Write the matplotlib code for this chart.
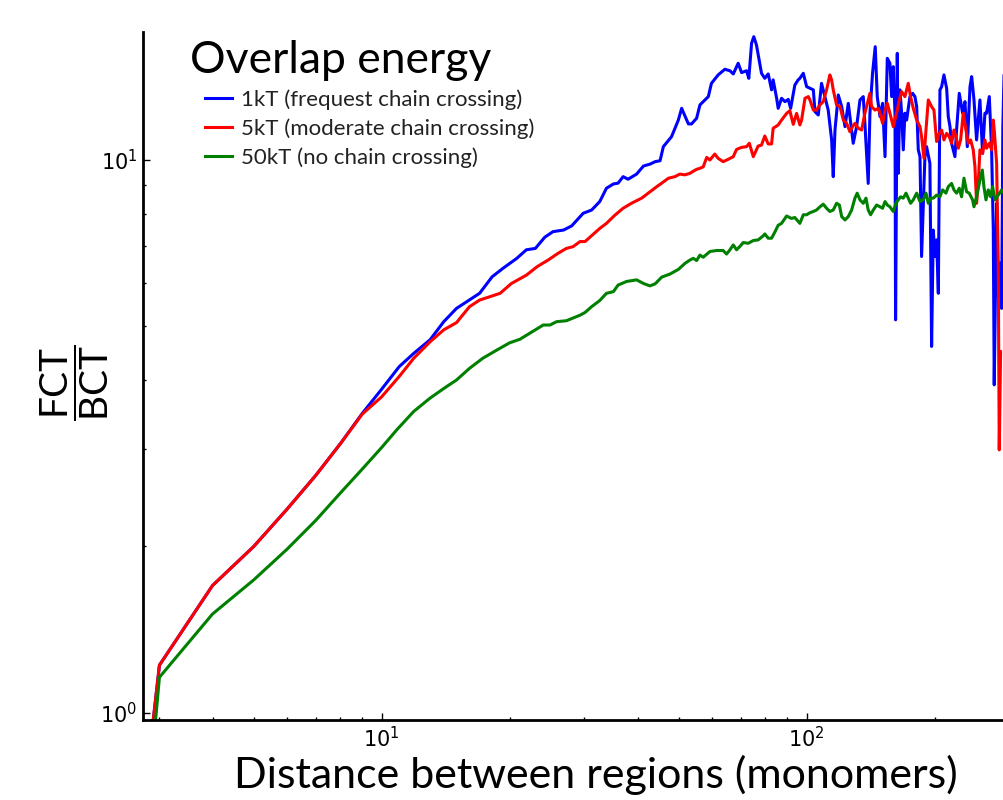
import numpy as np
import matplotlib
matplotlib.use('Agg')
import matplotlib.pyplot as plt

# distance between regions (monomers) and FCT/BCT ratio
x_1kt = [2, 3, 4, 5, 6, 7, 8, 9, 10, 11.0, 11.9, 13.0, 14.0, 15.0, 17.0, 18.2, 19.3, 20.8, 21.9, 23.0,
         24.2, 25.3, 26.8, 28.0, 29.8, 31.2, 32.6, 33.8, 35.1, 36.0, 37.0, 38.0, 39.8, 41.3, 42.8, 44.0,
         45.2, 46.0, 48.1, 49.9, 50.8, 52.7, 53.6, 55.1, 56.1, 58.7, 59.7, 61.9, 64.2, 66.0, 67.2, 69.0,
         70.3, 72.2, 73.1, 74.2, 75.1, 76.2, 78.3, 79.7, 81.2, 82.7, 83.4, 85.0, 85.7, 87.3, 88.9, 90.5,
         91.7, 93.8, 95.5, 96.4, 98.2, 100.0, 101.8, 103.7, 104.6, 106.5, 108.4, 110.4, 112.4, 114.5,
         115.5, 116.6, 118.7, 120.9, 123.1, 125.3, 126.4, 128.7, 131.1, 133.5, 135.9, 137.1, 139.6,
         140.9, 142.9, 145.0, 146.6, 148.8, 150.9, 152.9, 154.8, 157.0, 158.5, 159.9, 161.4, 161.9,
         163.4, 164.3, 165.8, 167.3, 168.8, 170.3, 171.9, 175.0, 177.6, 179.8, 181.5, 183.1, 184.8,
         186.4, 189.8, 191.5, 195.0, 196.8, 198.6, 200.4, 202.2, 204.1, 205.9, 207.8, 210.4, 213.5,
         215.4, 217.4, 219.3, 221.3, 223.3, 225.3, 228.6, 232.8, 235.8, 238.8, 242.3, 244.5, 247.6,
         251.1, 255.7, 259.4, 262.7, 265.1, 269.0, 272.4, 274.9, 276.3, 279.9, 282.4, 285.0, 287.6,
         289.5, 291.5]
y_1kt = [0.077, 1.22, 1.70, 2.00, 2.34, 2.69, 3.07, 3.48, 3.85, 4.23, 4.47, 4.73, 5.10, 5.39, 5.74,
         6.15, 6.37, 6.64, 6.88, 6.92, 7.25, 7.42, 7.47, 7.60, 8.01, 8.12, 8.41, 8.89, 9.05, 9.08, 9.33,
         9.23, 9.43, 9.75, 9.83, 9.93, 9.97, 10.57, 11.02, 11.81, 12.40, 11.62, 11.62, 11.90, 12.58,
         13.02, 13.76, 14.25, 14.59, 14.50, 14.31, 14.96, 14.39, 14.50, 14.05, 16.26, 16.71, 16.14,
         14.35, 14.05, 14.31, 13.39, 13.96, 12.93, 12.40, 12.93, 12.75, 12.87, 12.40, 13.66, 13.96,
         14.05, 14.35, 13.57, 13.48, 13.39, 12.23, 12.06, 13.76, 13.02, 12.31, 10.87, 9.33, 11.33,
         13.11, 12.49, 11.49, 12.66, 11.98, 10.72, 11.49, 12.84, 13.02, 11.65, 9.07, 12.15, 14.35,
         16.03, 13.02, 11.98, 12.66, 10.14, 15.27, 14.96, 13.02, 14.75, 12.15, 5.14, 15.59, 9.46,
         13.39, 12.15, 10.43, 12.15, 11.81, 13.02, 13.20, 13.02, 12.49, 10.43, 10.14, 6.69, 10.14,
         10.57, 9.86, 4.60, 7.47, 6.69, 7.17, 5.74, 13.39, 13.57, 14.25, 13.48, 11.98, 11.49, 10.72,
         10.43, 10.14, 11.33, 13.20, 12.15, 12.75, 10.57, 13.57, 14.15, 12.84, 10.87, 12.84, 10.28,
         12.15, 12.15, 13.02, 10.43, 7.47, 3.92, 8.35, 5.66, 6.51, 5.39, 11.5, 14.5]

x_5kt = [2, 3, 4, 5, 6, 7, 8, 9, 10, 11.0, 11.9, 13.0, 14.0, 15.0, 16.1, 17.0, 19.0, 20.2, 21.9,
         23.2, 24.7, 26.0, 27.2, 28.2, 29.3, 30.1, 32.6, 33.8, 35.4, 37.0, 38.7, 40.9, 42.8, 44.4,
         45.6, 47.3, 49.0, 50.3, 51.7, 53.1, 55.1, 56.1, 57.1, 58.2, 59.2, 60.8, 61.9, 63.6, 65.4,
         67.2, 68.4, 70.3, 72.2, 73.3, 74.9, 76.9, 78.3, 79.7, 81.2, 82.7, 83.4, 85.7, 87.3, 89.7,
         91.3, 93.0, 94.7, 96.4, 97.3, 99.1, 100.9, 101.8, 103.7, 105.5, 107.5, 109.4, 111.4, 113.4,
         114.5, 115.5, 117.6, 119.8, 122.0, 124.2, 126.4, 128.3, 129.9, 132.3, 134.7, 137.1, 139.6,
         140.9, 142.2, 144.8, 147.4, 148.8, 150.9, 152.9, 154.8, 157.0, 159.9, 163.4, 165.2, 167.3,
         170.3, 173.4, 175.6, 178.2, 181.5, 184.8, 186.4, 188.8, 190.9, 193.3, 196.8, 199.3, 202.2,
         205.2, 207.8, 210.4, 213.5, 216.6, 219.3, 222.1, 224.5, 227.4, 230.3, 233.6, 237.0, 240.1,
         243.1, 246.6, 248.9, 251.1, 253.4, 255.7, 259.4, 262.7, 265.1, 269.0, 272.4, 274.9, 276.3,
         279.9, 282.4, 283.9, 286.0]
y_5kt = [0.077, 1.22, 1.70, 2.00, 2.34, 2.69, 3.07, 3.47, 3.73, 4.06, 4.38, 4.69, 4.93, 5.08, 5.43,
         5.58, 5.74, 5.98, 6.19, 6.41, 6.60, 6.78, 6.92, 6.97, 7.12, 7.12, 7.52, 7.68, 7.95, 8.18,
         8.35, 8.53, 8.76, 8.95, 9.08, 9.27, 9.33, 9.43, 9.40, 9.46, 9.62, 9.66, 9.72, 10.11, 10.00,
         10.25, 10.07, 9.93, 10.03, 10.14, 10.45, 10.54, 10.57, 10.72, 10.14, 10.60, 10.64, 11.05,
         10.69, 10.69, 11.41, 11.57, 11.81, 12.14, 12.28, 11.60, 12.14, 11.57, 11.81, 12.93, 13.02,
         12.84, 12.31, 12.31, 12.58, 12.75, 13.39, 14.25, 13.95, 13.39, 12.58, 12.49, 11.81, 11.65,
         11.25, 11.49, 11.65, 11.41, 11.33, 12.15, 12.84, 13.20, 12.49, 12.31, 12.40, 12.15, 11.65,
         12.31, 12.66, 12.15, 11.49, 12.31, 12.84, 13.29, 13.02, 13.76, 13.02, 12.40, 11.81, 11.49,
         11.02, 10.07, 11.33, 12.84, 12.49, 12.31, 10.80, 11.17, 11.33, 10.87, 11.17, 11.02, 10.72,
         11.33, 11.02, 10.50, 10.87, 12.15, 11.33, 10.72, 10.87, 10.43, 9.72, 8.35, 9.07, 10.43,
         10.28, 10.87, 10.50, 10.72, 10.43, 11.81, 11.33, 9.86, 6.51, 2.99, 4.5]

x_50kt = [2, 3, 4, 5, 6, 7, 8, 9, 10, 10.85, 11.9, 13.0, 14.2, 15.0, 16.1, 17.3, 18.65, 20.0,
          21.15, 22.3, 24.0, 24.9, 25.8, 27.2, 29.3, 30.1, 31.2, 32.6, 33.8, 35.1, 36.0, 37.7, 39.8,
          41.3, 42.8, 44.0, 45.6, 47.7, 49.9, 51.7, 53.1, 54.1, 55.1, 56.1, 57.1, 59.2, 61.4, 63.6,
          64.8, 66.0, 67.2, 68.4, 69.7, 70.9, 72.9, 74.9, 76.9, 79.0, 79.7, 81.2, 82.7, 84.2, 85.7,
          87.3, 89.7, 92.1, 93.8, 96.4, 98.2, 100.0, 101.8, 103.7, 105.5, 107.5, 109.4, 111.4, 113.4,
          115.5, 117.6, 119.4, 120.9, 123.1, 125.3, 127.6, 129.9, 131.5, 133.5, 135.9, 137.9, 139.6,
          141.4, 143.5, 146.1, 148.8, 150.9, 152.9, 154.8, 157.0, 159.9, 162.2, 164.3, 166.4, 168.8,
          171.3, 173.4, 175.6, 178.2, 181.5, 184.8, 188.1, 190.9, 193.3, 195.7, 198.6, 202.2, 205.9,
          208.9, 212.7, 215.4, 219.3, 222.1, 225.3, 228.6, 231.5, 234.5, 237.9, 241.3, 245.7, 247.6,
          251.1, 255.7, 259.0, 261.3, 264.2, 267.5, 270.9, 273.9, 277.3, 282.4, 287.6, 291.2]
y_50kt = [0.037, 1.16, 1.51, 1.74, 1.98, 2.23, 2.50, 2.76, 3.02, 3.25, 3.51, 3.71, 3.89, 4.00, 4.20,
          4.38, 4.53, 4.67, 4.74, 4.86, 5.03, 5.03, 5.10, 5.12, 5.24, 5.30, 5.43, 5.57, 5.74, 5.78,
          5.94, 6.03, 6.07, 5.98, 5.92, 5.97, 6.14, 6.22, 6.34, 6.50, 6.59, 6.64, 6.58, 6.73, 6.67,
          6.83, 6.86, 6.86, 6.76, 6.88, 7.02, 6.88, 6.98, 7.09, 7.07, 7.15, 7.17, 7.29, 7.35, 7.22,
          7.22, 7.41, 7.62, 7.68, 7.92, 7.84, 7.87, 7.68, 7.96, 7.96, 8.03, 8.07, 8.12, 8.23, 8.32,
          8.18, 8.07, 8.12, 8.35, 8.29, 7.90, 7.79, 7.90, 8.12, 8.53, 8.71, 8.47, 8.35, 8.53, 8.12,
          7.96, 8.12, 8.29, 8.23, 8.18, 8.41, 8.29, 8.23, 8.07, 8.35, 8.47, 8.58, 8.53, 8.71, 8.53,
          8.35, 8.47, 8.71, 8.41, 8.47, 8.71, 8.35, 8.53, 8.53, 8.64, 8.58, 8.83, 8.71, 8.95, 9.07,
          8.83, 8.71, 8.89, 8.58, 9.27, 8.76, 8.71, 8.47, 8.23, 8.58, 9.20, 9.59, 8.95, 8.47, 8.83,
          8.58, 8.95, 8.47, 8.64, 8.83, 8.71]

labels = ['1kT (frequest chain crossing)', '5kT (moderate chain crossing)', '50kT (no chain crossing)']
colors = ['#0000ff', '#ff0000', '#008000']

plt.rcParams['mathtext.fontset'] = 'custom'
plt.rcParams['mathtext.rm'] = 'Lato'

fig = plt.figure(figsize=(10.04, 8), dpi=100)
ax = fig.add_axes([0.1424, 0.1, 0.863, 0.86])

for xs, ys, c, lab in zip([x_1kt, x_5kt, x_50kt], [y_1kt, y_5kt, y_50kt], colors, labels):
    ax.plot(xs, ys, color=c, lw=2.2, label=lab)

ax.set_xscale('log')
ax.set_yscale('log')
ax.set_xlim(2.744, 300)
ax.set_ylim(0.971, 17.04)

ax.spines['top'].set_visible(False)
ax.spines['right'].set_visible(False)
ax.spines['left'].set_linewidth(2)
ax.spines['bottom'].set_linewidth(2)
ax.tick_params(which='both', direction='in', top=False, right=False, labelsize=15, pad=4)
ax.tick_params(which='major', length=5, width=1)
ax.tick_params(which='minor', length=2.5, width=1)

ax.set_xlabel('Distance between regions (monomers)', fontsize=31, family='Lato', va='baseline')
ax.xaxis.set_label_coords(0.523, -0.099)
ax.set_ylabel(r'$\dfrac{\mathrm{FCT}}{\mathrm{BCT}}$', fontsize=28, va='center')
ax.yaxis.set_label_coords(-0.078, 0.49)

fig.text(190/1004, 1 - 73/800, 'Overlap energy', fontsize=32, family='Lato', va='baseline')
leg = ax.legend(loc='upper left', bbox_to_anchor=(205/1004, 1 - 89/800), bbox_transform=fig.transFigure,
                frameon=False, prop={'family': 'Lato', 'size': 16},
                handlelength=1.2, handletextpad=0.4, labelspacing=0.38, borderpad=0, borderaxespad=0)
for t in leg.get_texts():
    t.set_color('#222222')

fig.savefig('out.png', dpi=100)
